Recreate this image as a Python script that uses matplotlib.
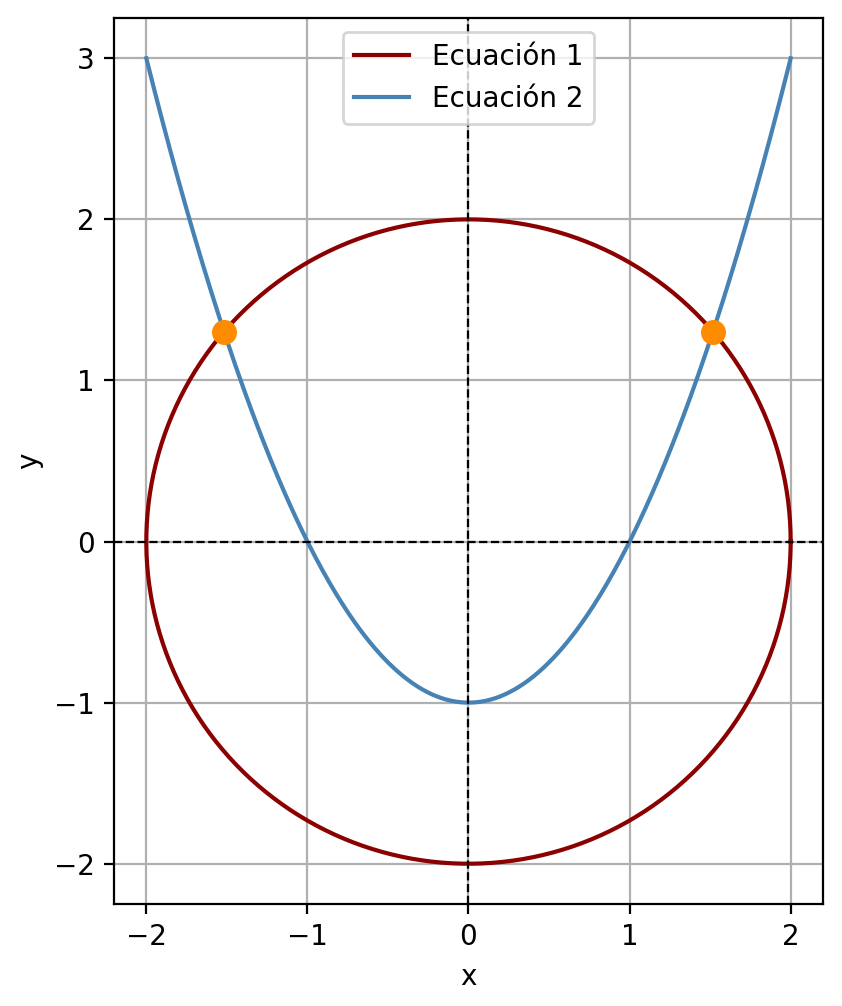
import numpy as np
import matplotlib.pyplot as plt

# ====================== datos ======================
# Ecuación 1: circunferencia x^2 + y^2 = r^2
radio = 2.0
# Ecuación 2: parábola y = a*x^2 + c, para x en [-2, 2]
a_par = 1.0
c_par = -1.0
x_min, x_max = -2.0, 2.0
# puntos de intersección leídos
x_int = [-1.52, 1.52]
y_int = [1.30, 1.30]

etiquetas = ['Ecuación 1', 'Ecuación 2']
xticks = [-2, -1, 0, 1, 2]
yticks = [-2, -1, 0, 1, 2, 3]

# ====================== curvas ======================
t = np.linspace(0, 2 * np.pi, 400)
xc = radio * np.cos(t)
yc = radio * np.sin(t)

xp = np.linspace(x_min, x_max, 400)
yp = a_par * xp ** 2 + c_par

# ====================== gráfico ======================
fig = plt.figure(figsize=(4.21, 5.03), dpi=200)
ax = fig.add_axes([0.1354, 0.1014, 0.842, 0.8807])

ax.plot(xc, yc, color='darkred', label=etiquetas[0])
ax.plot(xp, yp, color='steelblue', label=etiquetas[1])
ax.plot(x_int, y_int, 'o', color='darkorange', markersize=8)

ax.axhline(0, color='black', linestyle='--', linewidth=0.8)
ax.axvline(0, color='black', linestyle='--', linewidth=0.8)

ax.set_xlim(-2.2, 2.2)
ax.set_ylim(-2.25, 3.25)
ax.set_aspect('equal')
ax.set_xticks(xticks)
ax.set_yticks(yticks)
ax.set_xlabel('x')
ax.set_ylabel('y')
ax.grid(True)
ax.legend(loc='upper center')

fig.savefig('out.png', dpi=200)
